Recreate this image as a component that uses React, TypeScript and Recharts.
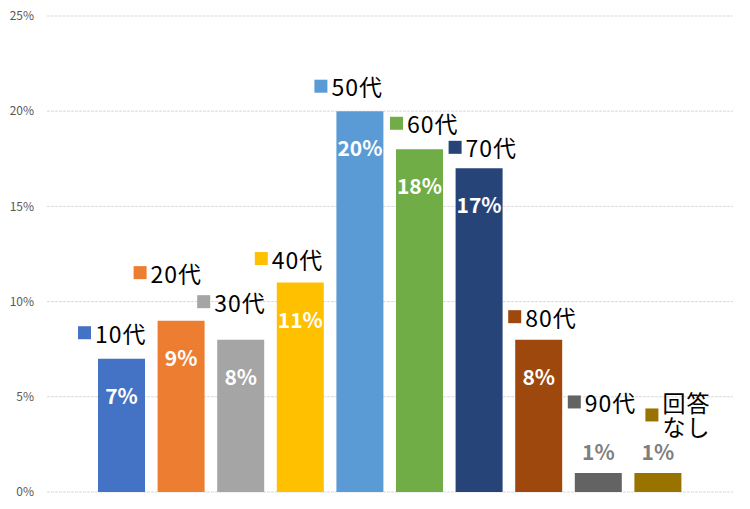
import { BarChart, Bar, XAxis, YAxis, CartesianGrid, Cell, LabelList } from 'recharts';

const AGE_GROUPS = ['10代', '20代', '30代', '40代', '50代', '60代', '70代', '80代', '90代', '回答なし'];
const SHARES = [7, 9, 8, 11, 20, 18, 17, 8, 1, 1];
const Y_TICKS = [0, 5, 10, 15, 20, 25];

const COLORS = ['#4472C4', '#ED7D31', '#A5A5A5', '#FFC000', '#5B9BD5', '#70AD47', '#264478', '#9E480E', '#636363', '#997300'];

// where each category tag sits: [marker left minus bar left, text centre above bar top]
const TAG_NUDGE: [number, number][] = [
  [-20, 26], [-24, 48], [-20, 38], [-22, 24], [-22, 25],
  [-6, 26], [-7, 21], [-7, 23], [-7, 71], [11, 71],
];

const FONT = "'Noto Sans CJK JP', 'Noto Sans', sans-serif";

const data = AGE_GROUPS.map((name, i) => ({ name, value: SHARES[i] }));

function BarLabels(props: any) {
  const { x, y, width, index, value } = props;
  const [dx, dy] = TAG_NUDGE[index];
  const name = AGE_GROUPS[index];
  const left = x + dx;
  const lines = name.length > 3 ? [name.slice(0, 2), name.slice(2)] : [name];
  const firstY = y - dy;
  const markerY = lines.length > 1 ? firstY + 13 : firstY;
  const inside = value >= 5;
  return (
    <g>
      <rect x={left} y={markerY - 6.5} width={13} height={13} fill={COLORS[index]} />
      <text
        x={left + 17}
        y={firstY}
        dominantBaseline="central"
        fontFamily={FONT}
        fontSize={23}
        letterSpacing={1}
        fill="#000"
      >
        {lines.map((ln, k) => (
          <tspan key={k} x={left + 17} dy={k === 0 ? 0 : 24}>
            {ln}
          </tspan>
        ))}
      </text>
      <text
        x={x + width / 2}
        y={inside ? y + 36 : y - 22}
        textAnchor="middle"
        dominantBaseline="central"
        fontFamily={FONT}
        fontSize={21}
        fontWeight="bold"
        fill={inside ? '#FFFFFF' : '#7F7F7F'}
      >
        {value}%
      </text>
    </g>
  );
}

export default function App() {
  return (
    <div style={{ position: 'absolute', left: 0, top: 0, background: '#fff' }}>
      <BarChart
        width={750}
        height={509}
        data={data}
        margin={{ top: 16, right: 17, left: 0, bottom: 17 }}
      >
        <CartesianGrid vertical={false} stroke="#D9D9D9" strokeDasharray="3 1" />
        <XAxis dataKey="name" hide padding={{ left: 45, right: 45 }} />
        <YAxis
          width={47}
          domain={[0, 25]}
          ticks={Y_TICKS}
          tickFormatter={v => `${v}%`}
          axisLine={false}
          tickLine={false}
          tickSize={0}
          tickMargin={13}
          tick={{ fill: '#595959', fontSize: 12, fontFamily: FONT }}
        />
        <Bar dataKey="value" barSize={47} isAnimationActive={false}>
          {data.map((entry, index) => (
            <Cell key={`cell-${index}`} fill={COLORS[index]} />
          ))}
          <LabelList dataKey="value" content={BarLabels} />
        </Bar>
      </BarChart>
    </div>
  );
}
